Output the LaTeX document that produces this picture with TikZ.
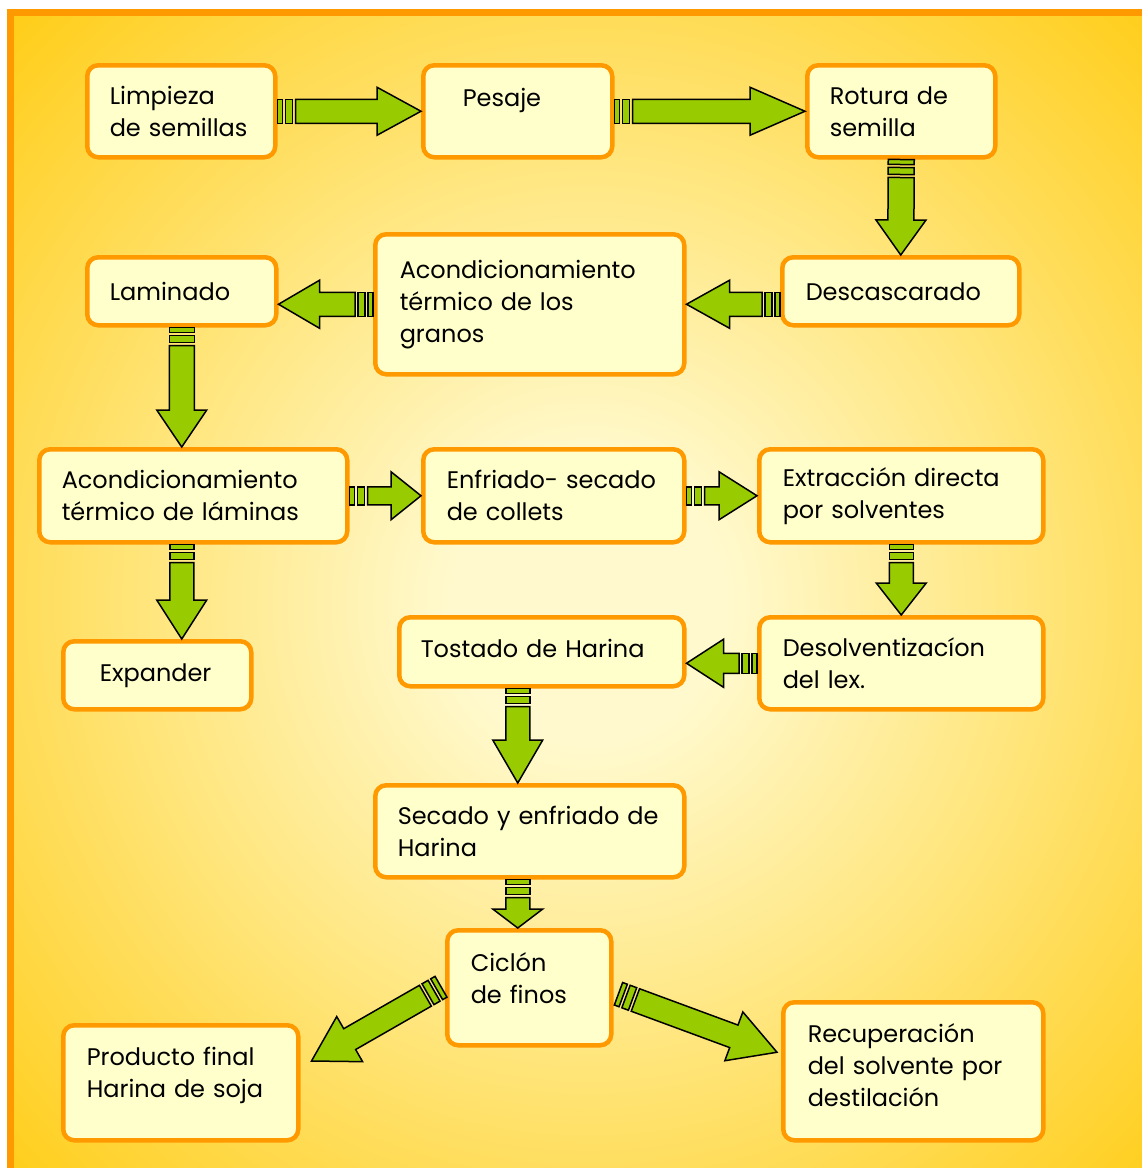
\documentclass[tikz,border=0pt]{standalone}
\usepackage{fontspec}
\setmainfont{Poppins}
\usetikzlibrary{calc}
\definecolor{naranja}{RGB}{255,153,0}
\definecolor{crema}{RGB}{255,255,204}
\definecolor{verde}{RGB}{153,204,0}
\definecolor{glowin}{RGB}{255,249,205}
\definecolor{glowout}{RGB}{255,204,20}
\pgfdeclareradialshading{fondo}{\pgfpoint{0bp}{0bp}}{color(0bp)=(glowin); color(6bp)=(glowin); color(36bp)=(glowout); color(50bp)=(glowout)}
\tikzset{
	caja/.style={
		draw=naranja, fill=crema, line width=4.5pt, rounded corners=11pt,
		anchor=north west, inner sep=0pt, align=left,
		font={\fontsize{24}{32}\selectfont}
	},
	flecha/.style={fill=verde, draw=black, line width=1.5pt, line join=miter},
}
\def\rayaA{5pt}
\def\rayaB{8pt}
\def\rayaC{15pt}
\def\cuerpo{18pt}
% flecha de bloque con dos rayas: desde, hasta, medio ancho, medio ancho de punta, largo de punta
\newcommand\flecha[5]{%
	\filldraw[flecha] ($(#1)!0pt!(#2)!#3!90:(#2)$) -- ($(#1)!\rayaA!(#2)!#3!90:(#2)$)
		-- ($(#1)!\rayaA!(#2)!#3!-90:(#2)$) -- ($(#1)!0pt!(#2)!#3!-90:(#2)$) -- cycle;
	\filldraw[flecha] ($(#1)!\rayaB!(#2)!#3!90:(#2)$) -- ($(#1)!\rayaC!(#2)!#3!90:(#2)$)
		-- ($(#1)!\rayaC!(#2)!#3!-90:(#2)$) -- ($(#1)!\rayaB!(#2)!#3!-90:(#2)$) -- cycle;
	\filldraw[flecha] ($(#1)!\cuerpo!(#2)!#3!90:(#2)$) -- ($(#2)!#5!(#1)!#3!90:(#2)$)
		-- ($(#2)!#5!(#1)!#4!90:(#2)$) -- (#2) -- ($(#2)!#5!(#1)!#4!-90:(#2)$)
		-- ($(#2)!#5!(#1)!#3!-90:(#2)$) -- ($(#1)!\cuerpo!(#2)!#3!-90:(#2)$) -- cycle;
}

\begin{document}
\begin{tikzpicture}[x=1pt, y=-1pt]
\useasboundingbox (0,0) rectangle (1142,1168);
\begin{scope}
\clip (0,0) rectangle (1142,1168);
\shade[shading=fondo] (10.5,12.5) rectangle (1165,1195);
\draw[naranja, line width=7.5pt] (10.5,1195) -- (10.5,12.5) -- (1165,12.5);
\end{scope}

% cajas
\node[caja, minimum width=188pt, minimum height=92pt, text width=143pt] (limpieza) at (85,63) {Limpieza\\de semillas};
\node[caja, minimum width=189pt, minimum height=92pt, text width=110pt, text depth=27pt] (pesaje) at (421,63) {Pesaje};
\node[caja, minimum width=188pt, minimum height=92pt, text width=143pt] (rotura) at (805,63) {Rotura de\\semilla};
\node[caja, minimum width=237pt, minimum height=68pt, text width=190pt] (descascarado) at (780,255) {Descascarado};
\node[caja, minimum width=309pt, minimum height=140pt, text width=260pt] (granos) at (373,232) {Acondicionamiento\\térmico de los\\granos};
\node[caja, minimum width=189pt, minimum height=68pt, text width=144pt] (laminado) at (85,255) {Laminado};
\node[caja, minimum width=308pt, minimum height=93pt, text width=263pt] (laminas) at (37,447) {Acondicionamiento\\térmico de láminas};
\node[caja, minimum width=261pt, minimum height=93pt, text width=214pt] (enfriado) at (421,447) {Enfriado- secado\\de collets};
\node[caja, minimum width=284pt, minimum height=93pt, text width=237pt] (extraccion) at (757,447) {Extracción directa\\por solventes};
\node[caja, minimum width=188pt, minimum height=68pt, text width=115pt] (expander) at (61,639) {Expander};
\node[caja, minimum width=285pt, minimum height=69pt, text width=242pt, text depth=6pt] (tostado) at (397,615) {Tostado de Harina};
\node[caja, minimum width=284pt, minimum height=92pt, text width=237pt] (desolv) at (757,615) {Desolventizacíon\\del lex.};
\node[caja, minimum width=309pt, minimum height=92pt, text width=264pt] (secado) at (373,783) {Secado y enfriado de\\Harina};
\node[caja, minimum width=164pt, minimum height=115pt, text width=117pt, text depth=51pt] (ciclon) at (445,928) {Ciclón\\de finos};
\node[caja, minimum width=235pt, minimum height=115pt, text width=188pt, text depth=53pt] (producto) at (61,1023) {Producto final\\Harina de soja};
\node[caja, minimum width=260pt, minimum height=138pt, text width=211pt, text depth=76pt] (recuperacion) at (781,1000) {Recuperación\\del solvente por\\destilación};

% puntos sueltos de las flechas
\coordinate (d1) at (descascarado.west |- granos.east);
\coordinate (l1) at (laminado.east |- granos.west);
\coordinate (l2) at (laminado.south |- laminas.north);
\coordinate (l3) at (laminado.south |- laminas.south);
\coordinate (l4) at (laminado.south |- expander.north);
\coordinate (t0) at (tostado.east |- desolv.west);
\coordinate (t1) at ([xshift=-24pt]tostado.south);
\coordinate (t2) at (t1 |- secado.north);
\coordinate (s1) at (t1 |- secado.south);
\coordinate (s2) at (t1 |- ciclon.north);
\coordinate (c1) at ($(ciclon.west)+(-4,-1)$);
\coordinate (c2) at ($(producto.north east)+(11,38)$);
\coordinate (c3) at ($(ciclon.east)+(5,6)$);
\coordinate (c4) at ($(recuperacion.west)+(-4,-19)$);

% flechas
\flecha{limpieza.east}{pesaje.west}{12pt}{24pt}{44pt}
\flecha{pesaje.east}{rotura.west}{12pt}{24pt}{55pt}
\flecha{rotura.south}{descascarado.north}{13pt}{25pt}{35pt}
\flecha{d1}{granos.east}{12pt}{24pt}{43pt}
\flecha{granos.west}{l1}{12pt}{24pt}{41pt}
\flecha{laminado.south}{l2}{12.5pt}{25pt}{37pt}
\flecha{laminas.east}{enfriado.west}{9pt}{24pt}{30pt}
\flecha{enfriado.east}{extraccion.west}{9pt}{24pt}{38pt}
\flecha{l3}{l4}{12pt}{25pt}{39pt}
\flecha{extraccion.south}{desolv.north}{12pt}{25pt}{32pt}
\flecha{desolv.west}{t0}{10pt}{24pt}{37pt}
\flecha{t1}{t2}{12pt}{25pt}{43pt}
\flecha{s1}{s2}{12pt}{25pt}{19pt}
\flecha{c1}{c2}{12pt}{26pt}{44pt}
\flecha{c3}{c4}{12pt}{26pt}{46pt}
\end{tikzpicture}
\end{document}
